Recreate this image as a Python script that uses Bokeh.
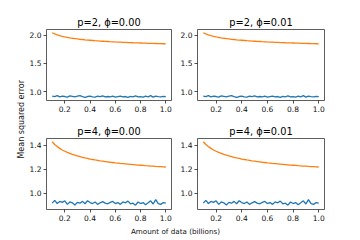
from bokeh.plotting import figure
from bokeh.layouts import row, column
from bokeh.models import FixedTicker, NumeralTickFormatter, Range1d
from bokeh.core.properties import value
from bokeh.embed import file_html
from bokeh.resources import INLINE
import math

FONT = "DejaVu Sans"
BLUE = "#1f77b4"
ORANGE = "#ff7f0e"

amount = [0.10, 0.12, 0.14, 0.16, 0.18, 0.20, 0.22, 0.24, 0.26, 0.28,
          0.30, 0.32, 0.34, 0.36, 0.38, 0.40, 0.42, 0.44, 0.46, 0.48,
          0.50, 0.52, 0.54, 0.56, 0.58, 0.60, 0.62, 0.64, 0.66, 0.68,
          0.70, 0.72, 0.74, 0.76, 0.78, 0.80, 0.82, 0.84, 0.86, 0.88,
          0.90, 0.92, 0.94, 0.96, 0.98, 1.00]

orange_p2 = [2.040, 2.019, 2.003, 1.989, 1.977, 1.967, 1.958, 1.950, 1.943, 1.937,
             1.931, 1.925, 1.921, 1.916, 1.912, 1.908, 1.904, 1.900, 1.897, 1.894,
             1.891, 1.888, 1.886, 1.883, 1.881, 1.878, 1.876, 1.874, 1.872, 1.870,
             1.868, 1.866, 1.864, 1.863, 1.861, 1.860, 1.858, 1.857, 1.855, 1.854,
             1.852, 1.851, 1.850, 1.848, 1.847, 1.846]

blue_p2 = [0.925, 0.918, 0.935, 0.915, 0.928, 0.920, 0.910, 0.930, 0.922, 0.912,
           0.925, 0.935, 0.918, 0.905, 0.920, 0.928, 0.915, 0.910, 0.925, 0.918,
           0.930, 0.912, 0.920, 0.915, 0.925, 0.908, 0.918, 0.928, 0.915, 0.920,
           0.905, 0.922, 0.915, 0.930, 0.912, 0.918, 0.908, 0.925, 0.915, 0.935,
           0.910, 0.928, 0.918, 0.912, 0.922, 0.918]

orange_p4 = [1.430, 1.407, 1.389, 1.374, 1.361, 1.350, 1.340, 1.332, 1.324, 1.317,
             1.311, 1.305, 1.299, 1.294, 1.290, 1.285, 1.281, 1.277, 1.274, 1.270,
             1.267, 1.264, 1.261, 1.258, 1.256, 1.253, 1.251, 1.248, 1.246, 1.244,
             1.242, 1.240, 1.238, 1.236, 1.234, 1.233, 1.231, 1.229, 1.228, 1.226,
             1.225, 1.223, 1.222, 1.221, 1.219, 1.218]

blue_p4 = [0.915, 0.938, 0.912, 0.930, 0.922, 0.935, 0.905, 0.925, 0.918, 0.900,
           0.922, 0.915, 0.930, 0.910, 0.935, 0.920, 0.912, 0.925, 0.905, 0.918,
           0.928, 0.915, 0.910, 0.922, 0.930, 0.912, 0.920, 0.905, 0.925, 0.918,
           0.932, 0.910, 0.915, 0.898, 0.925, 0.912, 0.920, 0.902, 0.918, 0.935,
           0.908, 0.945, 0.912, 0.905, 0.920, 0.915]

titles = ["p=2, \u03d5=0.00", "p=2, \u03d5=0.01", "p=4, \u03d5=0.00", "p=4, \u03d5=0.01"]
x_ticks = [0.2, 0.4, 0.6, 0.8, 1.0]
y_ticks_p2 = [1.0, 1.5, 2.0]
y_ticks_p4 = [1.0, 1.2, 1.4]
x_label = "Amount of data (billions)"
y_label = "Mean squared error"


def panel(title, blue, orange, yr, yticks, w, h, bl, br, bt, bb):
    p = figure(width=w, height=h, output_backend="svg", toolbar_location=None,
               x_range=Range1d(0.055, 1.045), y_range=Range1d(*yr),
               min_border_left=bl, min_border_right=br,
               min_border_top=bt, min_border_bottom=bb, title=title)
    p.line(amount, blue, line_color=BLUE, line_width=1.3)
    p.line(amount, orange, line_color=ORANGE, line_width=1.3)
    p.xgrid.visible = False
    p.ygrid.visible = False
    p.outline_line_color = "#333333"
    p.outline_line_width = 0.8
    p.background_fill_color = "white"
    p.border_fill_color = "white"
    p.title.text_font = FONT
    p.title.text_font_size = "9.8px"
    p.title.text_font_style = "normal"
    p.title.align = "center"
    p.title.standoff = 3
    p.title.text_color = "black"
    p.xaxis.ticker = FixedTicker(ticks=x_ticks)
    p.yaxis.ticker = FixedTicker(ticks=yticks)
    p.xaxis.formatter = NumeralTickFormatter(format="0.0")
    p.yaxis.formatter = NumeralTickFormatter(format="0.0")
    for ax in (p.xaxis[0], p.yaxis[0]):
        ax.axis_line_color = None
        ax.major_tick_line_color = "#222222"
        ax.major_tick_line_width = 0.8
        ax.major_tick_out = 3
        ax.major_tick_in = 0
        ax.minor_tick_out = 0
        ax.minor_tick_in = 0
        ax.major_label_standoff = 2
        ax.major_label_text_font = FONT
        ax.major_label_text_font_size = "7.5px"
        ax.major_label_text_color = "#111111"
    return p


yr2 = (0.85, 2.097)
yr4 = (0.862, 1.457)

tl = panel(titles[0], blue_p2, orange_p2, yr2, y_ticks_p2, 151, 118, 19, 6, 29, 18)
tr = panel(titles[1], blue_p2, orange_p2, yr2, y_ticks_p2, 183, 118, 20, 36, 29, 18)
bl = panel(titles[2], blue_p4, orange_p4, yr4, y_ticks_p4, 151, 106, 19, 6, 20, 15)
br = panel(titles[3], blue_p4, orange_p4, yr4, y_ticks_p4, 183, 106, 20, 36, 20, 15)

ylab = figure(width=26, height=240, output_backend="svg", toolbar_location=None,
              x_range=Range1d(0, 1), y_range=Range1d(0, 1),
              x_axis_location=None, y_axis_location=None,
              min_border=0, outline_line_color=None)
ylab.grid.visible = False
ylab.text(x=[0.81], y=[0.505], text=[y_label], angle=math.pi / 2,
          text_align="center", text_baseline="middle",
          text_font=value(FONT), text_font_size="8px", text_color="#111111")

xlab = figure(width=334, height=16, output_backend="svg", toolbar_location=None,
              x_range=Range1d(0, 1), y_range=Range1d(0, 1),
              x_axis_location=None, y_axis_location=None,
              min_border=0, outline_line_color=None)
xlab.grid.visible = False
xlab.text(x=[0.446], y=[0.56], text=[x_label],
          text_align="center", text_baseline="middle",
          text_font=value(FONT), text_font_size="7.2px", text_color="#111111")

layout = row(ylab, column(row(tl, tr), row(bl, br), xlab))

open("out.html", "w").write(file_html(layout, INLINE))
